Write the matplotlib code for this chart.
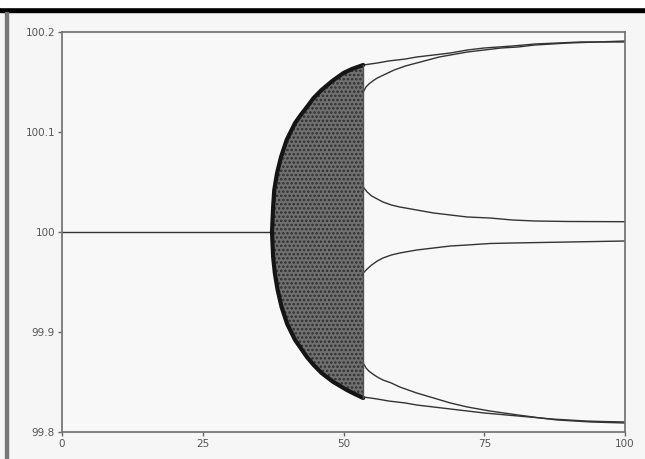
import matplotlib.pyplot as plt
from matplotlib.patches import Rectangle, Polygon

# steady state before the cloud
flat_x = [0, 37.3]
flat_y = [100, 100]

# outline of the chaotic cloud (left edge, top to bottom)
cloud_left_x = [53.5, 51.5, 50.0, 48.0, 46.1, 44.7, 43.5, 42.4, 41.4, 40.6, 39.9, 38.9,
                38.2, 37.7, 37.5, 37.3, 37.5, 37.8, 38.3, 39.0, 40.0, 41.4, 43.5, 44.7,
                46.1, 48.2, 50.6, 52.0, 53.5]
cloud_left_y = [100.167, 100.163, 100.159, 100.151, 100.142, 100.134, 100.125, 100.117,
                100.109, 100.100, 100.092, 100.075, 100.059, 100.042, 100.025, 100.0,
                99.975, 99.959, 99.942, 99.925, 99.908, 99.892, 99.875, 99.867, 99.859,
                99.850, 99.842, 99.838, 99.834]

# branches after the cloud
a_x = [53.5, 56, 58, 61, 63, 66, 69, 72, 75, 80, 84, 88, 92, 96, 100]
a_y = [100.167, 100.169, 100.171, 100.173, 100.175, 100.177, 100.179, 100.182, 100.184,
       100.186, 100.188, 100.189, 100.190, 100.190, 100.190]
b_x = [53.5, 54.0, 54.5, 55.2, 56, 57.5, 59, 61, 63, 65, 67, 69, 72, 75, 78, 81, 84, 87, 90, 95, 100]
b_y = [100.140, 100.145, 100.148, 100.151, 100.154, 100.158, 100.162, 100.166, 100.169,
       100.172, 100.175, 100.177, 100.180, 100.182, 100.184, 100.185, 100.187, 100.188,
       100.189, 100.190, 100.191]
c_x = [53.5, 54.2, 55, 56, 57, 58.5, 60, 63, 66, 69, 72, 76, 80, 84, 90, 95, 100]
c_y = [100.045, 100.040, 100.036, 100.033, 100.030, 100.027, 100.025, 100.022, 100.019,
       100.017, 100.015, 100.014, 100.012, 100.011, 100.0105, 100.0104, 100.0103]
d_x = [53.5, 54.2, 55, 56, 57, 58.5, 60, 63, 66, 69, 72, 76, 80, 85, 90, 95, 100]
d_y = [99.959, 99.963, 99.967, 99.971, 99.974, 99.977, 99.979, 99.982, 99.984, 99.986,
       99.987, 99.9885, 99.989, 99.9895, 99.990, 99.9905, 99.991]
e_x = [53.5, 56, 58, 61, 63, 66, 69, 72, 75, 78, 81, 84, 87, 90, 93, 96, 100]
e_y = [99.835, 99.833, 99.831, 99.829, 99.827, 99.825, 99.823, 99.821, 99.819, 99.8175,
       99.816, 99.8145, 99.813, 99.812, 99.811, 99.8105, 99.810]
f_x = [53.5, 54.0, 54.5, 55.2, 56, 57, 58.5, 60, 63, 66, 69, 72, 76, 81, 85, 88, 91, 94, 97, 100]
f_y = [99.869, 99.864, 99.861, 99.858, 99.855, 99.852, 99.849, 99.845, 99.839, 99.834,
       99.829, 99.825, 99.821, 99.817, 99.814, 99.812, 99.811, 99.810, 99.8095, 99.809]

xticks = [0, 25, 50, 75, 100]
yticks = [99.8, 99.9, 100, 100.1, 100.2]
ytick_labels = ["99.8", "99.9", "100", "100.1", "100.2"]

fig = plt.figure(figsize=(6.45, 4.59), dpi=100)
fig.patch.set_facecolor('#f6f6f6')
ax = fig.add_axes([62/645, 27/459, 563/645, 400/459])
ax.set_facecolor('#f8f8f8')

# window frame bits
fig.patches.append(Rectangle((0, (459-12)/459), 1, 5/459, transform=fig.transFigure,
                             color='black', zorder=5))
fig.patches.append(Rectangle((0, (459-7)/459), 1, 7/459, transform=fig.transFigure,
                             color='white', zorder=5))
fig.patches.append(Rectangle((5/645, 0), 2.5/645, (459-12)/459, transform=fig.transFigure,
                             color='#777777', zorder=5))

line_kw = dict(color='#333333', lw=1.0)
ax.plot(flat_x, flat_y, **line_kw)

poly = list(zip(cloud_left_x, cloud_left_y))
plt.rcParams['hatch.linewidth'] = 1.2
ax.add_patch(Polygon(poly, closed=True, facecolor='#707070', edgecolor='#2e2e2e',
                     linewidth=0, hatch='....', zorder=2))
ax.plot(cloud_left_x, cloud_left_y, color='#151515', lw=3, zorder=3,
        solid_joinstyle='round', solid_capstyle='round')
ax.plot([53.4, 53.4], [cloud_left_y[-1], cloud_left_y[0]], color='#555555', lw=1.0, zorder=3)

for xs, ys in [(a_x, a_y), (b_x, b_y), (c_x, c_y), (d_x, d_y), (e_x, e_y), (f_x, f_y)]:
    ax.plot(xs, ys, **line_kw)

ax.set_xlim(0, 100)
ax.set_ylim(99.8, 100.2)
ax.set_xticks(xticks)
ax.set_xticklabels([str(t) for t in xticks])
ax.set_yticks(yticks)
ax.set_yticklabels(ytick_labels)
ax.tick_params(direction='out', length=3, width=1, colors='#666666', labelsize=7.5,
               labelcolor='#555555', pad=2)
for s in ax.spines.values():
    s.set_color('#777777')
    s.set_linewidth(1.3)

plt.savefig('out.png', dpi=100, facecolor=fig.get_facecolor())
